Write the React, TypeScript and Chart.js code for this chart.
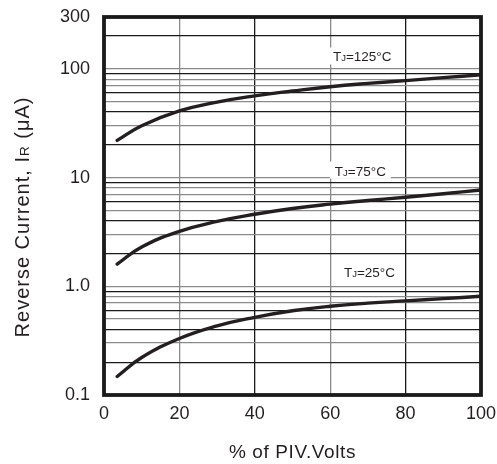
import React, { useEffect, useRef } from "react";
import { Chart, registerables } from "chart.js";

Chart.register(...registerables);

const xValues = [3.5, 10, 20, 30, 40, 50, 60, 70, 80, 90, 100];
const tj125 = [22, 30, 41, 49.5, 56.5, 62.5, 68.5, 73.5, 78, 83, 88];
const tj75 = [1.6, 2.3, 3.2, 3.95, 4.6, 5.2, 5.7, 6.15, 6.6, 7.1, 7.7];
const tj25 = [0.148, 0.221, 0.331, 0.432, 0.518, 0.595, 0.655, 0.7, 0.735, 0.77, 0.81];

const yTickLabels: Record<string, string> = { "0.1": "0.1", "1": "1.0", "10": "10", "100": "100", "300": "300" };
const yGridValues = [
  0.1, 0.2, 0.3, 0.4, 0.5, 0.6, 0.7, 0.8, 0.9,
  1, 2, 3, 4, 5, 6, 7, 8, 9,
  10, 20, 30, 40, 50, 60, 70, 80, 90,
  100, 200, 300,
];
const xTicks = [0, 20, 40, 60, 80, 100];

const curveLabels = [
  { main: "T", sub: "J", rest: "=125°C", x: 68.5, y: 130 },
  { main: "T", sub: "J", rest: "=75°C", x: 68, y: 11.6 },
  { main: "T", sub: "J", rest: "=25°C", x: 70.4, y: 1.35 },
];

const INK = "#231f20";
const FONT = "'Liberation Sans', Arial, sans-serif";

function gridColorFor(v: number): string {
  const m = Math.round(v / Math.pow(10, Math.floor(Math.log10(v) + 1e-9)));
  if (v >= 299) return "rgba(0,0,0,0)";
  if ([2, 4, 6, 9].includes(m)) return "#1a1a1a";
  return "#8a8a8a";
}

const decorPlugin = {
  id: "decor",
  afterDraw(chart: any) {
    const { ctx, chartArea, scales } = chart;
    const xs = scales.x;
    const ys = scales.y;
    ctx.save();
    curveLabels.forEach((l) => {
      const cx = xs.getPixelForValue(l.x);
      const cy = ys.getPixelForValue(l.y);
      ctx.font = `13.5px ${FONT}`;
      const wMain = ctx.measureText(l.main).width;
      const wRest = ctx.measureText(l.rest).width;
      ctx.font = `9.5px ${FONT}`;
      const wSub = ctx.measureText(l.sub).width;
      const total = wMain + wSub + wRest;
      const left = cx - total / 2;
      ctx.fillStyle = "#ffffff";
      ctx.fillRect(left - 5, cy - 9, total + 10, 17);
      ctx.fillStyle = INK;
      ctx.textBaseline = "alphabetic";
      ctx.textAlign = "left";
      const base = cy + 5;
      ctx.font = `13.5px ${FONT}`;
      ctx.fillText(l.main, left, base);
      ctx.font = `9.5px ${FONT}`;
      ctx.fillText(l.sub, left + wMain, base);
      ctx.font = `13.5px ${FONT}`;
      ctx.fillText(l.rest, left + wMain + wSub, base);
    });
    ctx.strokeStyle = "#1a1a1a";
    ctx.lineWidth = 3.8;
    ctx.strokeRect(chartArea.left, chartArea.top, chartArea.right - chartArea.left, chartArea.bottom - chartArea.top);
    ctx.fillStyle = INK;
    ctx.font = `19px ${FONT}`;
    (ctx as any).letterSpacing = "0.6px";
    ctx.textAlign = "center";
    ctx.textBaseline = "middle";
    ctx.fillText("% of PIV.Volts", (chartArea.left + chartArea.right) / 2, 453);
    ctx.translate(22, 217);
    ctx.rotate(-Math.PI / 2);
    (ctx as any).letterSpacing = "1px";
    const p1 = "Reverse Current, I";
    const p2 = "R";
    const p3 = " (μA)";
    ctx.font = `20px ${FONT}`;
    const w1 = ctx.measureText(p1).width;
    const w3 = ctx.measureText(p3).width;
    ctx.font = `13.5px ${FONT}`;
    const w2 = ctx.measureText(p2).width;
    const tot = w1 + w2 + w3;
    ctx.textAlign = "left";
    ctx.textBaseline = "alphabetic";
    const s = -tot / 2;
    ctx.font = `20px ${FONT}`;
    ctx.fillText(p1, s, 7);
    ctx.font = `13.5px ${FONT}`;
    ctx.fillText(p2, s + w1, 7);
    ctx.font = `20px ${FONT}`;
    ctx.fillText(p3, s + w1 + w2, 7);
    ctx.restore();
  },
};

function App() {
  const ref = useRef<HTMLCanvasElement | null>(null);
  useEffect(() => {
    if (!ref.current) return;
    const ds = (data: number[]) => ({
      data: xValues.map((x, i) => ({ x, y: data[i] })),
      borderColor: INK,
      borderWidth: 3.4,
      pointRadius: 0,
      fill: false,
      tension: 0.45,
      borderCapStyle: "round" as const,
    });
    const chart = new Chart(ref.current, {
      type: "line",
      data: { datasets: [ds(tj125), ds(tj75), ds(tj25)] },
      plugins: [decorPlugin],
      options: {
        animation: false,
        responsive: false,
        devicePixelRatio: 1,
        layout: { padding: { top: 17, right: 16, left: 0, bottom: 0 } },
        plugins: { legend: { display: false }, tooltip: { enabled: false } },
        scales: {
          x: {
            type: "linear",
            min: 0,
            max: 100,
            afterBuildTicks: (scale: any) => {
              scale.ticks = xTicks.map((v) => ({ value: v }));
            },
            afterFit: (scale: any) => {
              scale.height = 69;
              scale.paddingLeft = 0;
              scale.paddingRight = 0;
            },
            ticks: {
              color: INK,
              font: { family: FONT, size: 18 },
              padding: 8,
              maxRotation: 0,
              callback: (v: any) => String(v),
            },
            grid: {
              drawTicks: false,
              lineWidth: 1.3,
              color: (ctx: any) => {
                const v = ctx.tick?.value;
                if (v === 40 || v === 80) return "#1a1a1a";
                if (v === 20 || v === 60) return "#8a8a8a";
                return "rgba(0,0,0,0)";
              },
            },
            border: { display: false },
          },
          y: {
            type: "logarithmic",
            min: 0.1,
            max: 300,
            afterBuildTicks: (scale: any) => {
              scale.ticks = yGridValues.map((v) => ({ value: v }));
            },
            afterFit: (scale: any) => {
              scale.width = 104;
              scale.paddingTop = 0;
              scale.paddingBottom = 0;
            },
            ticks: {
              color: INK,
              font: { family: FONT, size: 18 },
              padding: 14,
              autoSkip: false,
              callback: (v: any) => {
                const key = String(Number(Number(v).toPrecision(6)));
                return yTickLabels[key] ?? "";
              },
            },
            grid: {
              drawTicks: false,
              lineWidth: 1.3,
              color: (ctx: any) => gridColorFor(ctx.tick?.value ?? 1),
            },
            border: { display: false },
          },
        },
      },
    } as any);
    return () => chart.destroy();
  }, []);
  return (
    <div style={{ position: "fixed", left: 0, top: 0, width: 497, height: 464, background: "#fff" }}>
      <canvas ref={ref} width={497} height={464} style={{ width: 497, height: 464, display: "block" }} />
    </div>
  );
}

export default App;
